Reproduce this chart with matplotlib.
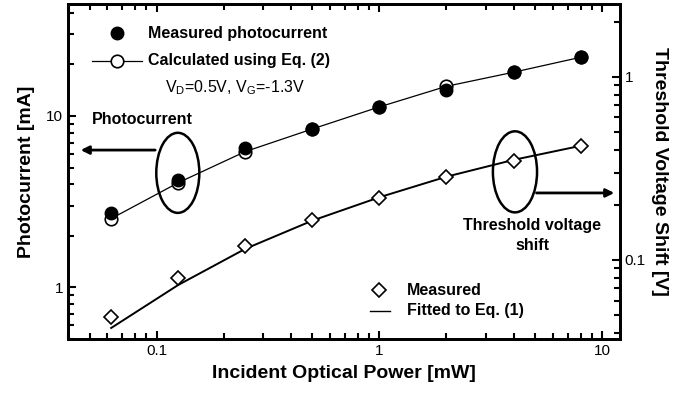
import matplotlib
matplotlib.use("Agg")
import matplotlib.pyplot as plt
from matplotlib.patches import Ellipse
from matplotlib.ticker import FuncFormatter, NullFormatter

plt.rcParams['font.family'] = ['Liberation Sans', 'DejaVu Sans']

# data
power = [0.0625, 0.125, 0.25, 0.5, 1, 2, 4, 8]                 # mW
i_meas = [2.73, 4.25, 6.5, 8.4, 11.3, 14.2, 18.0, 22.0]        # mA
i_calc = [2.52, 4.08, 6.2, 8.4, 11.3, 14.9, 18.0, 22.0]        # mA
vth_meas = [0.049, 0.080, 0.119, 0.166, 0.218, 0.284, 0.347, 0.42]  # V
vth_fit = [0.0425, 0.073, 0.115, 0.164, 0.22, 0.285, 0.352, 0.42]   # V

fig = plt.figure(figsize=(6.91, 3.94), dpi=100)
ax = fig.add_axes([0.0984, 0.1396, 0.7986, 0.8502])
ax2 = ax.twinx()

ax.plot(power, i_calc, '-', color='black', lw=0.9, marker='o', ms=9,
        mfc='white', mec='black', mew=1.2, zorder=3)
ax.plot(power, i_meas, 'o', color='black', ms=9, zorder=4)

ax2.plot(power, vth_fit, '-', color='black', lw=1.4)
ax2.plot(power, vth_meas, 'D', ms=7, mfc='white', mec='black', mew=1.2)

ax.set_xscale('log')
ax.set_yscale('log')
ax2.set_yscale('log')
ax.set_xlim(0.04, 12)
ax.set_ylim(0.5, 45)
ax2.set_ylim(0.037, 2.5)

fmt = FuncFormatter(lambda v, p: '%g' % v)
for a in (ax, ax2):
    a.yaxis.set_major_formatter(fmt)
    a.yaxis.set_minor_formatter(NullFormatter())
    for s in a.spines.values():
        s.set_linewidth(2)
ax.xaxis.set_major_formatter(fmt)
ax.xaxis.set_minor_formatter(NullFormatter())

ax.tick_params(which='both', direction='in', top=True, right=False, width=1.5, labelsize=11)
ax.tick_params(which='major', length=6)
ax.tick_params(which='minor', length=4)
ax2.tick_params(which='both', direction='in', width=1.5, labelsize=11)
ax2.tick_params(which='major', length=6)
ax2.tick_params(which='minor', length=4)

ax.set_xlabel('Incident Optical Power [mW]', fontsize=14, fontweight='bold', labelpad=5)
ax.set_ylabel('Photocurrent [mA]', fontsize=14, fontweight='bold', labelpad=8)
ax2.set_ylabel('Threshold Voltage Shift [V]', fontsize=14, fontweight='bold',
               rotation=270, labelpad=16)

T = ax.transAxes
bold = dict(fontsize=11.5, fontweight='bold', transform=T, va='center')

# upper legend
ax.plot([0.089], [0.913], 'o', color='black', ms=9, transform=T, clip_on=False)
ax.text(0.145, 0.913, 'Measured photocurrent', **bold)
ax.plot([0.043, 0.134], [0.830, 0.830], '-', color='black', lw=0.9, transform=T)
ax.plot([0.089], [0.830], 'o', ms=9, mfc='white', mec='black', mew=1.2, transform=T)
ax.text(0.145, 0.830, 'Calculated using Eq. (2)', **bold)
ax.text(0.176, 0.749, r'V$_\mathregular{D}$=0.5V, V$_\mathregular{G}$=-1.3V',
        fontsize=11.5, transform=T, va='center')

# lower legend
ax.plot([0.563], [0.146], 'D', ms=7, mfc='white', mec='black', mew=1.2, transform=T)
ax.text(0.614, 0.146, 'Measured', **bold)
ax.plot([0.547, 0.583], [0.084, 0.084], '-', color='black', lw=1, transform=T)
ax.text(0.614, 0.084, 'Fitted to Eq. (1)', **bold)

# annotations
ax.text(0.043, 0.654, 'Photocurrent', **bold)
ax.add_patch(Ellipse((0.199, 0.496), 0.078, 0.239, transform=T, fill=False, lw=1.8, ec='black'))
ax.annotate('', xy=(0.018, 0.564), xytext=(0.163, 0.564), xycoords=T,
            arrowprops=dict(arrowstyle='-|>', color='black', lw=2, mutation_scale=12))

ax.text(0.841, 0.31, 'Threshold voltage\nshift', ha='center', fontsize=11.5,
        fontweight='bold', transform=T, va='center', linespacing=1.4)
ax.add_patch(Ellipse((0.81, 0.499), 0.08, 0.242, transform=T, fill=False, lw=1.8, ec='black'))
ax.annotate('', xy=(0.995, 0.436), xytext=(0.844, 0.436), xycoords=T,
            arrowprops=dict(arrowstyle='-|>', color='black', lw=2, mutation_scale=12))

fig.savefig('out.png', dpi=100)
